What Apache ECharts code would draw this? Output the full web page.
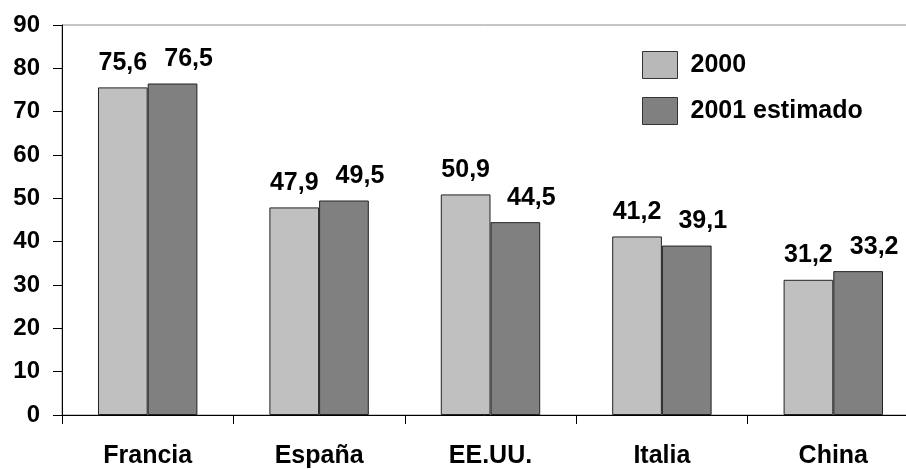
<!DOCTYPE html>
<html>
<head>
<meta charset="utf-8">
<script src="https://cdn.jsdelivr.net/npm/echarts@6/dist/echarts.min.js"></script>
<style>
  html, body { margin: 0; padding: 0; background: #fff; }
  #chart { width: 906px; height: 469px; }
</style>
</head>
<body>
<div id="chart"></div>
<script>
// Categories and values per series
const categories = ['Francia', 'España', 'EE.UU.', 'Italia', 'China'];
const values2000 = [75.6, 47.9, 50.9, 41.2, 31.2];
const values2001 = [76.5, 49.5, 44.5, 39.1, 33.2];
const seriesNames = ['2000', '2001 estimado'];
const yTicks = { min: 0, max: 90, interval: 10 };

const FONT = '"Liberation Sans", Arial, sans-serif';
const textBase = { fontFamily: FONT, fontWeight: 'bold', color: '#000' };

const fmt = v => v.toFixed(1).replace('.', ',');

const chart = echarts.init(document.getElementById('chart'), null, { renderer: 'canvas' });

// labelShiftX nudges the value labels sideways so neighbouring labels don't touch
function barSeries(name, data, color, labelShiftX) {
  return {
    name: name,
    type: 'bar',
    data: data,
    barGap: '0%',
    barCategoryGap: '42%',
    itemStyle: { color: color, borderColor: '#222', borderWidth: 1 },
    label: {
      show: true,
      position: 'top',
      distance: 12,
      offset: [labelShiftX, 0],
      ...textBase,
      fontSize: 25,
      formatter: p => fmt(p.value)
    },
    emphasis: { disabled: true },
    animation: false
  };
}

chart.setOption({
  animation: false,
  backgroundColor: '#fff',
  // the plot area runs a little past the right edge of the canvas
  grid: {
    left: 62, top: 25, width: 857, height: 390,
    outerBoundsMode: 'none',
    show: true, borderColor: '#8c8c8c', borderWidth: 1,
    containLabel: false
  },
  legend: {
    orient: 'vertical',
    left: 637, top: 46,
    itemWidth: 35, itemHeight: 27, itemGap: 18,
    icon: 'rect',
    textStyle: { ...textBase, fontSize: 25, padding: [4, 0, 0, 8] },
    data: [
      { name: seriesNames[0], itemStyle: { color: '#b8b8b8', borderColor: '#333', borderWidth: 1 } },
      { name: seriesNames[1], itemStyle: { color: '#808080', borderColor: '#333', borderWidth: 1 } }
    ],
    selectedMode: false
  },
  xAxis: {
    type: 'category',
    data: categories,
    axisLine: { lineStyle: { color: '#000', width: 1 } },
    axisTick: { show: true, length: 9, lineStyle: { color: '#000' } },
    axisLabel: { ...textBase, fontSize: 25, margin: 29 },
    splitLine: { show: false }
  },
  yAxis: {
    type: 'value',
    min: yTicks.min, max: yTicks.max, interval: yTicks.interval,
    axisLine: { show: true, lineStyle: { color: '#000', width: 1 } },
    axisTick: { show: true, length: 9, lineStyle: { color: '#000' } },
    axisLabel: { ...textBase, fontSize: 24, margin: 22 },
    splitLine: { show: false }
  },
  series: [
    barSeries(seriesNames[0], values2000, '#c0c0c0', 0),
    barSeries(seriesNames[1], values2001, '#808080', 16)
  ]
});
</script>
</body>
</html>
